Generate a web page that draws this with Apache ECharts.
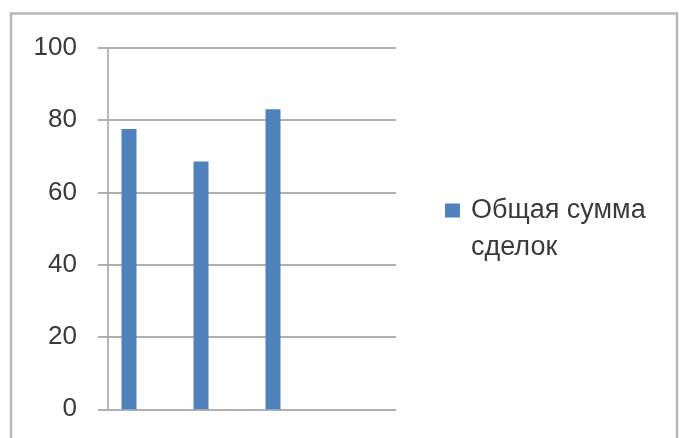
<!DOCTYPE html>
<html>
<head>
<meta charset="utf-8">
<script src="https://cdn.jsdelivr.net/npm/echarts@6/dist/echarts.min.js"></script>
<style>
html,body{margin:0;padding:0;background:#fff;}
#c{width:679px;height:438px;}
</style>
</head>
<body>
<div id="c"></div>
<script>
var categories = ['1', '2', '3', '4'];
var seriesName = 'Общая сумма\nсделок';
var values = [77.5, 68.5, 83, '-'];
var yTicks = [0, 20, 40, 60, 80, 100];

var chart = echarts.init(document.getElementById('c'), null, {renderer: 'canvas'});
var font = 'Liberation Sans';
chart.setOption({
  animation: false,
  backgroundColor: '#ffffff',
  graphic: [{
    type: 'rect', silent: true,
    shape: {x: 11, y: 13.5, width: 666, height: 460},
    style: {fill: 'none', stroke: '#b8b8b8', lineWidth: 2.5}
  }],
  grid: {left: 108, right: 283, top: 47.7, bottom: 28.7, containLabel: false},
  legend: {
    data: [seriesName],
    left: 440, top: 150,
    orient: 'vertical',
    icon: 'rect',
    itemWidth: 15, itemHeight: 14,
    formatter: function (name) { return ' \n' + name; },
    textStyle: {fontFamily: font, fontSize: 27, color: '#3a3a3a', lineHeight: 37, padding: [0, 0, 0, 6]}
  },
  xAxis: {
    type: 'category',
    data: categories,
    axisLine: {show: false},
    axisTick: {show: false},
    axisLabel: {show: false},
    splitLine: {show: false}
  },
  yAxis: {
    type: 'value',
    min: yTicks[0], max: yTicks[yTicks.length - 1], interval: 20,
    axisLine: {show: true, lineStyle: {color: '#a0a0a0', width: 1.5}},
    axisTick: {show: true, length: 10, lineStyle: {color: '#b0b0b0', width: 2}},
    axisLabel: {margin: 31, fontFamily: font, fontSize: 26, color: '#3a3a3a'},
    splitLine: {show: true, lineStyle: {color: '#b0b0b0', width: 2}}
  },
  series: [
    {name: seriesName, type: 'bar', data: values, barWidth: 15, barGap: '0%', itemStyle: {color: '#4f81bd'}},
    {name: 'empty2', type: 'bar', data: ['-', '-', '-', '-'], barWidth: 15, barGap: '0%'},
    {name: 'empty3', type: 'bar', data: ['-', '-', '-', '-'], barWidth: 15, barGap: '0%'}
  ]
});
</script>
</body>
</html>
